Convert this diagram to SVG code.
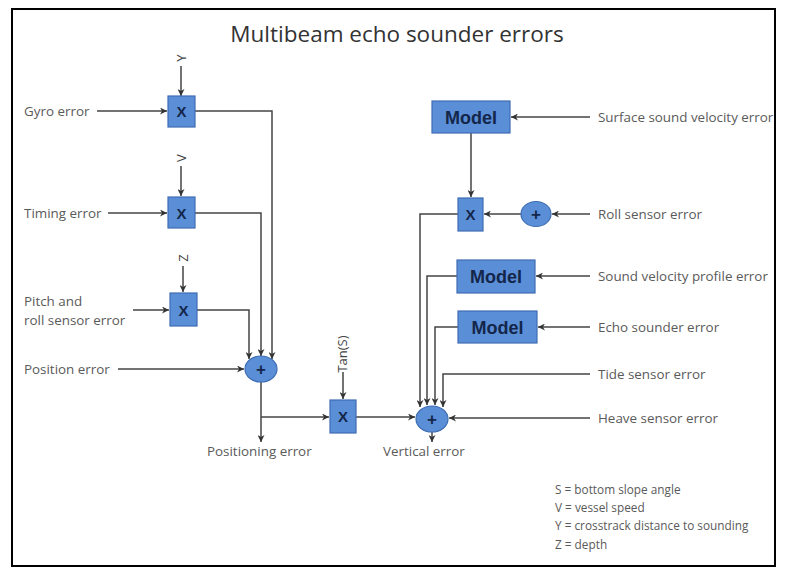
<svg xmlns="http://www.w3.org/2000/svg" width="786" height="573" viewBox="0 0 786 573">
<defs>
<marker id="ah" viewBox="0 0 10 10" refX="10" refY="5" markerWidth="7" markerHeight="7" orient="auto" markerUnits="userSpaceOnUse">
<path d="M0,0 L10,5 L0,10 L3,5 z" fill="#333"/>
</marker>
<style>
.bg{fill:#fff}
.frame{fill:none;stroke:#000;stroke-width:2}
.title{font-family:"Open Sans","Liberation Sans",sans-serif;font-size:22.5px;fill:#333}
.lbl{font-family:"Open Sans","Liberation Sans",sans-serif;font-size:13.4px;fill:#5a5a5a}
.leg{font-family:"Open Sans","Liberation Sans",sans-serif;font-size:11.8px;fill:#5a5a5a}
.box{fill:#5a8fd8;stroke:#3e6db3;stroke-width:1.2}
.sum{fill:#5a8fd8;stroke:#3e6db3;stroke-width:1.2}
.op{font-family:"Liberation Sans",Arial,sans-serif;font-weight:bold;font-size:15px;fill:#14264a;text-anchor:middle}
.plus{font-family:"Liberation Sans",Arial,sans-serif;font-weight:bold;font-size:17px;fill:#14264a;text-anchor:middle}
.mdl{font-family:"Liberation Sans",Arial,sans-serif;font-weight:bold;font-size:18px;fill:#14264a;text-anchor:middle}
.rot{font-family:"Open Sans","Liberation Sans",sans-serif;font-size:13px;fill:#444;text-anchor:middle}
.ca{fill:none;stroke:#444;stroke-width:1.5;marker-end:url(#ah)}
</style>
</defs>
<rect class="bg" x="0" y="0" width="786" height="573"/>
<rect class="frame" x="12" y="9" width="763" height="557"/>
<text class="title" x="397" y="42" text-anchor="middle">Multibeam echo sounder errors</text>

<g id="connectors">
<line class="ca" x1="181" y1="66" x2="181" y2="96"/>
<line class="ca" x1="97" y1="111" x2="167" y2="111"/>
<line class="ca" x1="181" y1="166" x2="181" y2="196"/>
<line class="ca" x1="108" y1="213" x2="167" y2="213"/>
<line class="ca" x1="183" y1="266" x2="183" y2="292"/>
<line class="ca" x1="133" y1="310" x2="169" y2="310"/>
<line class="ca" x1="118" y1="369" x2="244" y2="369"/>
<polyline class="ca" points="195,111 272,111 272,359"/>
<polyline class="ca" points="195,213 261,213 261,356"/>
<polyline class="ca" points="197,310 249,310 249,359"/>
<line class="ca" x1="261" y1="382" x2="261" y2="442"/>
<line class="ca" x1="261" y1="417" x2="329" y2="417"/>
<line class="ca" x1="343" y1="372" x2="343" y2="399"/>
<line class="ca" x1="356" y1="417" x2="415" y2="417"/>
<line class="ca" x1="590" y1="117" x2="511" y2="117"/>
<line class="ca" x1="471" y1="133" x2="471" y2="197"/>
<line class="ca" x1="590" y1="214" x2="552" y2="214"/>
<line class="ca" x1="521" y1="214" x2="484" y2="214"/>
<line class="ca" x1="590" y1="276" x2="536" y2="276"/>
<line class="ca" x1="590" y1="327" x2="538" y2="327"/>
<polyline class="ca" points="458,214 420,214 420,407"/>
<polyline class="ca" points="457,276 427,276 427,405"/>
<polyline class="ca" points="458,327 435,327 435,405"/>
<polyline class="ca" points="590,374 443,374 443,407"/>
<line class="ca" x1="590" y1="418" x2="449" y2="418"/>
<line class="ca" x1="432" y1="432" x2="432" y2="442"/>
</g>

<g id="gyro-x"><rect class="box" x="168" y="96" width="27" height="31"/><text class="op" x="181.5" y="117">X</text></g>
<g id="timing-x"><rect class="box" x="168" y="197" width="27" height="31"/><text class="op" x="181.5" y="218.5">X</text></g>
<g id="pitch-x"><rect class="box" x="170" y="293" width="27" height="33"/><text class="op" x="183.5" y="315.5">X</text></g>
<g id="sum-pos"><ellipse class="sum" cx="261" cy="369" rx="16" ry="13"/><text class="plus" x="261" y="375">+</text></g>
<g id="tan-x"><rect class="box" x="330" y="400" width="26" height="33"/><text class="op" x="343" y="422">X</text></g>
<g id="sum-vert"><ellipse class="sum" cx="432" cy="419" rx="16" ry="13"/><text class="plus" x="432" y="425">+</text></g>
<g id="model-ssv"><rect class="box" x="432" y="101" width="78" height="32"/><text class="mdl" x="471" y="123.5">Model</text></g>
<g id="roll-x"><rect class="box" x="458" y="198" width="25" height="33"/><text class="op" x="470.5" y="220">X</text></g>
<g id="roll-sum"><ellipse class="sum" cx="536" cy="214" rx="15" ry="12.5"/><text class="plus" x="536" y="220">+</text></g>
<g id="model-svp"><rect class="box" x="457" y="260" width="78" height="33"/><text class="mdl" x="496" y="283">Model</text></g>
<g id="model-es"><rect class="box" x="458" y="311" width="79" height="32"/><text class="mdl" x="497.5" y="333.5">Model</text></g>

<g id="labels">
<text class="rot" transform="translate(185.5,58) rotate(-90)">Y</text>
<text class="rot" transform="translate(185.5,158) rotate(-90)">V</text>
<text class="rot" transform="translate(187.5,258) rotate(-90)">Z</text>
<text class="rot" transform="translate(347,354) rotate(-90)">Tan(S)</text>
<text class="lbl" x="24" y="116">Gyro error</text>
<text class="lbl" x="24" y="218">Timing error</text>
<text class="lbl" x="24" y="306">Pitch and</text>
<text class="lbl" x="24" y="325">roll sensor error</text>
<text class="lbl" x="24" y="374">Position error</text>
<text class="lbl" x="207" y="456">Positioning error</text>
<text class="lbl" x="383" y="456">Vertical error</text>
<text class="lbl" x="598" y="122">Surface sound velocity error</text>
<text class="lbl" x="598" y="219">Roll sensor error</text>
<text class="lbl" x="598" y="281">Sound velocity profile error</text>
<text class="lbl" x="598" y="332">Echo sounder error</text>
<text class="lbl" x="598" y="379">Tide sensor error</text>
<text class="lbl" x="598" y="423">Heave sensor error</text>
<text class="leg" x="555" y="494">S = bottom slope angle</text>
<text class="leg" x="555" y="512">V = vessel speed</text>
<text class="leg" x="555" y="530">Y = crosstrack distance to sounding</text>
<text class="leg" x="555" y="549">Z = depth</text>
</g>
</svg>
